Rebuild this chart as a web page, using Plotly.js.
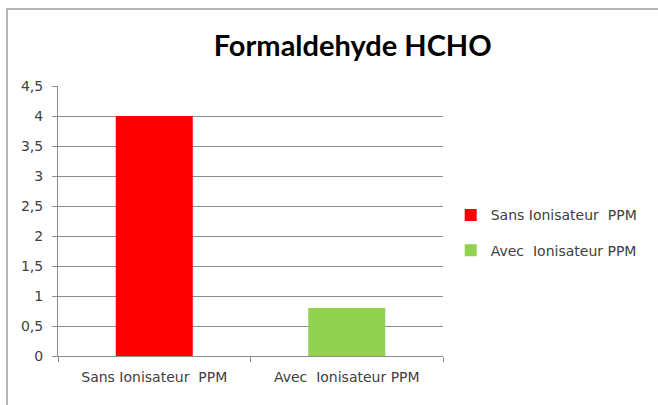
<!DOCTYPE html>
<html>
<head>
<meta charset="utf-8">
<script src="https://cdn.plot.ly/plotly-3.0.1.min.js"></script>
<style>
html,body{margin:0;padding:0;background:#fff;}
#wrap{position:relative;width:658px;height:405px;overflow:hidden;}
#chart{position:absolute;left:0;top:0;width:658px;height:405px;}
#bt{position:absolute;left:6px;top:8px;width:660px;height:2px;background:#b4b4b4;z-index:5;}
#bl{position:absolute;left:6px;top:8px;width:2px;height:400px;background:#b4b4b4;z-index:5;}
</style>
</head>
<body>
<div id="wrap"><div id="chart"></div><div id="bt"></div><div id="bl"></div></div>
<script>
const categories = ["Sans Ionisateur \u00a0PPM", "Avec \u00a0Ionisateur PPM"];
const seriesNames = ["Sans Ionisateur \u00a0PPM", "Avec \u00a0Ionisateur PPM"];
const values = [4, 0.8];
const colors = ["#ff0000", "#92d050"];
const titleText = "Formaldehyde HCHO";

const traces = categories.map((c, i) => ({
  type: "bar",
  x: [c],
  y: [values[i]],
  name: seriesNames[i],
  legendgroup: "g" + i,
  marker: {color: colors[i]},
  width: 0.4,
  hoverinfo: "none"
}));

const tickFont = {family: "DejaVu Sans", size: 14, color: "#404040"};

const layout = {
  width: 658, height: 405,
  margin: {l: 58, r: 215, t: 86, b: 49},
  paper_bgcolor: "#ffffff",
  plot_bgcolor: "#ffffff",
  separators: ", ",
  barmode: "overlay",
  font: tickFont,
  title: {
    text: "<b>" + titleText + "</b>",
    font: {family: "Lato", size: 29, color: "#000000"},
    xref: "container", yref: "container",
    x: 0.536, xanchor: "center",
    y: 1 - 46/405, yanchor: "middle"
  },
  xaxis: {
    type: "category",
    showline: true, linecolor: "#8c8c8c", linewidth: 1,
    ticks: "outside", tickson: "boundaries", ticklen: 5, tickcolor: "#8c8c8c",
    ticklabelstandoff: 8,
    showgrid: false, zeroline: false,
    tickfont: tickFont,
    fixedrange: true
  },
  yaxis: {
    range: [0, 4.5], dtick: 0.5, tick0: 0,
    showline: true, linecolor: "#8c8c8c", linewidth: 1,
    ticks: "outside", ticklen: 5, tickcolor: "#8c8c8c",
    ticklabelstandoff: 6,
    showgrid: true, gridcolor: "#8c8c8c", gridwidth: 1,
    zeroline: false,
    tickfont: tickFont,
    fixedrange: true
  },
  showlegend: true,
  legend: {
    x: 1.02, xanchor: "left",
    y: 0.456, yanchor: "middle",
    traceorder: "grouped",
    tracegroupgap: 14,
    font: tickFont,
    itemwidth: 30,
    bgcolor: "rgba(0,0,0,0)"
  }
};

Plotly.newPlot("chart", traces, layout, {displayModeBar: false, staticPlot: true});
</script>
</body>
</html>
